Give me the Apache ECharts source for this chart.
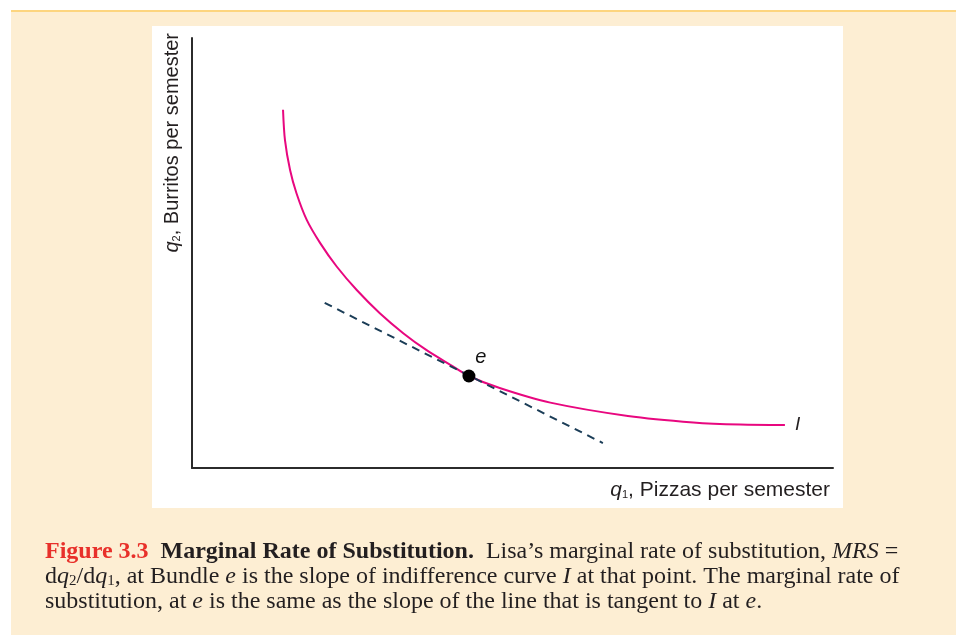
<!DOCTYPE html>
<html>
<head>
<meta charset="utf-8">
<script src="https://cdn.jsdelivr.net/npm/echarts@6/dist/echarts.min.js"></script>
<style>
	html, body { margin: 0; padding: 0; background: #fff; }
	#page { position: absolute; left: 11px; top: 10px; width: 945px; height: 625px; background: #fdeed3; border-top: 2px solid #fdd57f; box-sizing: border-box; }
	#chart { position: absolute; left: 0; top: 0; width: 956px; height: 635px; }
</style>
</head>
<body>
<div id="page"></div>
<div id="chart"></div>
<script>
// indifference curve I (q1 pizzas, q2 burritos)
var curveQ1 = [14.2, 14.5, 15.3, 16.3, 17.9, 20.0, 22.6, 25.7, 29.3, 33.0, 36.6, 40.3, 43.2, 48.0, 55.9, 68.0, 78.2, 85.5, 92.5];
var curveQ2 = [83.3, 76.3, 69.3, 63.9, 57.7, 52.3, 46.8, 41.4, 36.0, 31.3, 27.4, 24.0, 21.4, 18.6, 15.2, 12.1, 10.6, 10.1, 10.0];
// tangent line at bundle e
var tangentQ1 = [20.7, 64.1];
var tangentQ2 = [38.4, 5.8];
// bundle e
var bundleE = [43.2, 21.4];

function zip(a, b) {
	var out = [];
	for (var i = 0; i < a.length; i++) {
		out.push([a[i], b[i]]);
	}
	return out;
}

var myChart = echarts.init(document.getElementById("chart"));

var axisCommon = {
	type: 'value',
	min: 0,
	max: 100,
	axisLine: { show: true, lineStyle: { color: '#2b2b2b', width: 2 } },
	axisTick: { show: false },
	axisLabel: { show: false },
	splitLine: { show: false }
};

var sans = 'Liberation Sans, Arial, sans-serif';
var serif = 'Liberation Serif, Times New Roman, serif';
var fs = 24;

var capRich = {
	red: { fontFamily: serif, fontSize: fs, fontWeight: 'bold', fill: '#e8302a' },
	b: { fontFamily: serif, fontSize: fs, fontWeight: 'bold', fill: '#231f20' },
	n: { fontFamily: serif, fontSize: fs, fill: '#231f20' },
	i: { fontFamily: serif, fontSize: fs, fontStyle: 'italic', fill: '#231f20' },
	sub: { fontFamily: serif, fontSize: 15, fill: '#231f20', verticalAlign: 'bottom', padding: [9, 0, 0, 0] }
};

function axRich(size) {
	return {
		i: { fontFamily: sans, fontSize: size, fontStyle: 'italic', fill: '#231f20' },
		s: { fontFamily: sans, fontSize: 11, fill: '#231f20', verticalAlign: 'bottom', padding: [8, 0, 0, 0] },
		n: { fontFamily: sans, fontSize: size, fill: '#231f20' }
	};
}

option = {
	backgroundColor: 'transparent',
	animation: false,
	grid: { left: 192, top: 38, width: 641, height: 430 },
	xAxis: axisCommon,
	yAxis: axisCommon,
	graphic: [
		{
			type: 'rect', z: -10,
			shape: { x: 152, y: 26, width: 691, height: 482 },
			style: { fill: '#ffffff' }
		},
		{
			type: 'text', x: 830, y: 490,
			style: {
				text: '{i|q}{s|1}{n|, Pizzas per semester}',
				align: 'right', verticalAlign: 'middle',
				rich: axRich(21)
			}
		},
		{
			type: 'text', x: 172, y: 33, rotation: Math.PI / 2,
			style: {
				text: '{i|q}{s|2}{n|, Burritos per semester}',
				align: 'right', verticalAlign: 'middle',
				rich: axRich(20)
			}
		},
		{
			type: 'text', x: 45, y: 539,
			style: {
				text: '{red|Figure 3.3}{b|  Marginal Rate of Substitution.}{n|  Lisa\u2019s marginal rate of substitution, }{i|MRS}{n| =}\n' +
					'{n|d}{i|q}{sub|2}{n|/d}{i|q}{sub|1}{n|, at Bundle }{i|e}{n| is the slope of indifference curve }{i|I}{n| at that point. The marginal rate of}\n' +
					'{n|substitution, at }{i|e}{n| is the same as the slope of the line that is tangent to }{i|I}{n| at }{i|e}{n|.}',
				lineHeight: 25,
				rich: capRich
			}
		}
	],
	series: [
		{
			name: 'I',
			type: 'line',
			data: zip(curveQ1, curveQ2),
			smooth: 0.3,
			showSymbol: false,
			lineStyle: { color: '#e8077f', width: 2 },
			endLabel: {
				show: true,
				formatter: 'I',
				distance: 10,
				fontFamily: sans,
				fontStyle: 'italic',
				fontSize: 19,
				color: '#231f20'
			}
		},
		{
			name: 'tangent',
			type: 'line',
			data: zip(tangentQ1, tangentQ2),
			showSymbol: false,
			lineStyle: { color: '#1b3d57', width: 2, type: [8, 6] }
		},
		{
			name: 'e',
			type: 'scatter',
			data: [bundleE],
			symbolSize: 13,
			itemStyle: { color: '#000', opacity: 1 },
			z: 5,
			label: {
				show: true,
				formatter: 'e',
				position: 'top',
				offset: [12, 3],
				fontFamily: sans,
				fontStyle: 'italic',
				fontSize: 20,
				color: '#111'
			}
		}
	]
};

myChart.setOption(option);
</script>
</body>
</html>
